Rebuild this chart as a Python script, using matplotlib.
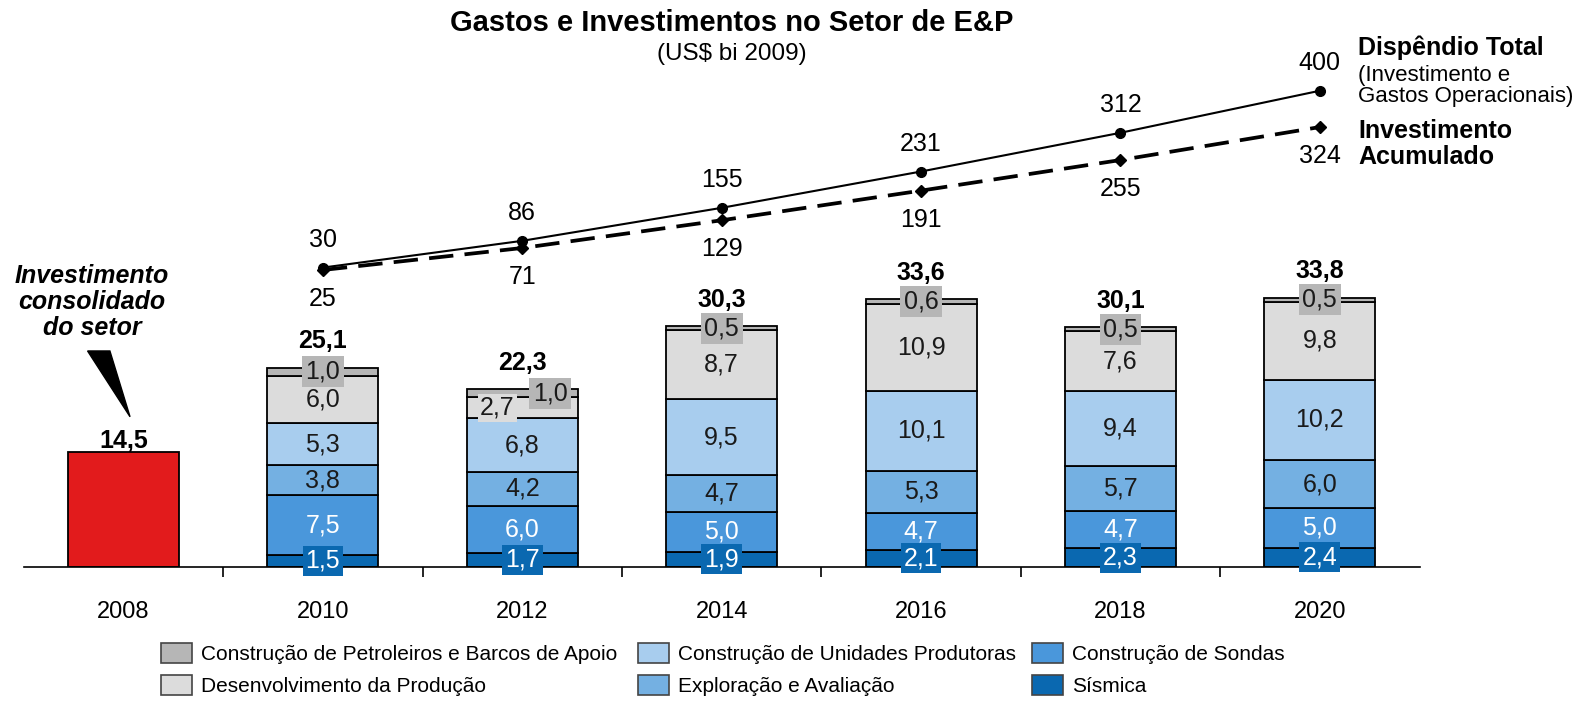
import matplotlib.pyplot as plt
from matplotlib.patches import Patch, Polygon
import numpy as np

plt.rcParams['font.family'] = ['Liberation Sans', 'DejaVu Sans']

# dados (US$ bi 2009)
anos = ['2008', '2010', '2012', '2014', '2016', '2018', '2020']
consolidado_2008 = 14.5
sismica = [1.5, 1.7, 1.9, 2.1, 2.3, 2.4]
sondas = [7.5, 6.0, 5.0, 4.7, 4.7, 5.0]
exploracao = [3.8, 4.2, 4.7, 5.3, 5.7, 6.0]
unidades = [5.3, 6.8, 9.5, 10.1, 9.4, 10.2]
desenvolvimento = [6.0, 2.7, 8.7, 10.9, 7.6, 9.8]
petroleiros = [1.0, 1.0, 0.5, 0.6, 0.5, 0.5]
totais = [25.1, 22.3, 30.3, 33.6, 30.1, 33.8]
dispendio_total = [30, 86, 155, 231, 312, 400]
invest_acumulado = [25, 71, 129, 191, 255, 324]

series = [
    ('Sísmica', sismica, '#0a68b0'),
    ('Construção de Sondas', sondas, '#4a97db'),
    ('Exploração e Avaliação', exploracao, '#74b0e2'),
    ('Construção de Unidades Produtoras', unidades, '#a8cdee'),
    ('Desenvolvimento da Produção', desenvolvimento, '#dcdcdc'),
    ('Construção de Petroleiros e Barcos de Apoio', petroleiros, '#b6b6b6'),
]


def fmt(v):
    return f'{v:.1f}'.replace('.', ',')


fig = plt.figure(figsize=(15.95, 7.02), dpi=100)
ax = fig.add_axes([0.0149, 0.1927, 0.8751, 0.7503])
ax.set_xlim(-0.5, 6.5)
ax.set_ylim(0, 66.4)
for s in ['top', 'left', 'right']:
    ax.spines[s].set_visible(False)
ax.spines['bottom'].set_linewidth(1.2)
ax.set_yticks([])
ax.set_xticks(np.arange(0.5, 6, 1))
ax.set_xticklabels([])
ax.tick_params(axis='x', which='major', length=7, width=1.2, direction='out')
ax.set_xticks(np.arange(len(anos)), minor=True)
ax.set_xticklabels(anos, minor=True, fontsize=17)
ax.tick_params(axis='x', which='minor', length=0, pad=25)

w = 0.557
ax.bar(0, consolidado_2008, width=w, color='#e21b1c', edgecolor='black', linewidth=1.3)
ax.annotate(fmt(consolidado_2008), (0, consolidado_2008), xytext=(0, 8),
            textcoords='offset points', ha='center', va='center',
            fontsize=18, fontweight='bold')

x = np.arange(1, 7)
bottom = np.zeros(6)
# deslocamentos horizontais de rótulos (2012)
desloc = {(1, 4): -0.125, (1, 5): 0.14}
for j, (nome, vals, cor) in enumerate(series):
    vals = np.array(vals)
    ax.bar(x, vals, width=w, bottom=bottom, color=cor, edgecolor='black',
           linewidth=1.3, label=nome)
    for i in range(6):
        xi = x[i] + desloc.get((i, j), 0)
        yi = bottom[i] + vals[i] / 2
        kw = dict(ha='center', va='center', fontsize=18, zorder=5)
        if j == 0:
            kw.update(color='white', bbox=dict(boxstyle='square,pad=0.12', fc=cor, ec='none'))
        elif j == 1:
            kw.update(color='white')
        elif j == 5:
            kw.update(color='#1a1a1a', bbox=dict(boxstyle='square,pad=0.14', fc='#b6b6b6', ec='none'))
        elif (i, j) in desloc:
            kw.update(color='#1a1a1a', bbox=dict(boxstyle='square,pad=0.08', fc=cor, ec='none'))
        else:
            kw.update(color='#1a1a1a')
        ax.text(xi, yi, fmt(vals[i]), **kw)
    bottom += vals

for i in range(6):
    ax.annotate(fmt(totais[i]), (x[i], bottom[i]), xytext=(0, 19),
                textcoords='offset points', ha='center', va='center',
                fontsize=18, fontweight='bold')

# seta do rótulo de 2008
ax.add_patch(Polygon([[-0.18, 27.2], [-0.068, 27.2], [0.033, 18.9]],
                     closed=True, color='black', zorder=6))
fig.text(92 / 1595, 1 - 302 / 702, 'Investimento\nconsolidado\ndo setor',
         ha='center', va='center', fontsize=18, fontweight='bold',
         style='italic', linespacing=1.08)

# linhas (eixo secundário)
ax2 = ax.twinx()
ax2.set_ylim(-595.8, 506.1)
ax2.axis('off')
ax2.plot(x, dispendio_total, color='black', lw=1.5, marker='o', ms=7, zorder=4)
ax2.plot(x, invest_acumulado, color='black', lw=2.7, ls=(0, (6.5, 3)),
         marker='D', ms=6, zorder=3)
for i in range(6):
    ax2.annotate(str(dispendio_total[i]), (x[i], dispendio_total[i]), xytext=(0, 20),
                 textcoords='offset points', ha='center', va='center', fontsize=18)
    ax2.annotate(str(invest_acumulado[i]), (x[i], invest_acumulado[i]), xytext=(0, -21),
                 textcoords='offset points', ha='center', va='center', fontsize=18)

fig.text(1358 / 1595, 1 - 48 / 702, 'Dispêndio Total', ha='left', va='center',
         fontsize=18, fontweight='bold')
fig.text(1358 / 1595, 1 - 86 / 702, '(Investimento e\nGastos Operacionais)',
         ha='left', va='center', fontsize=16, linespacing=0.95)
fig.text(1358 / 1595, 1 - 144 / 702, 'Investimento\nAcumulado', ha='left',
         va='center', fontsize=18, fontweight='bold', linespacing=1.12)

fig.text(732 / 1595, 1 - 23 / 702, 'Gastos e Investimentos no Setor de E&P',
         ha='center', va='center', fontsize=21, fontweight='bold')
fig.text(732 / 1595, 1 - 54 / 702, '(US$ bi 2009)', ha='center', va='center',
         fontsize=17.5)

# legenda em três colunas
h = {nome: Patch(facecolor=cor, edgecolor='#444444', linewidth=1.2)
     for nome, _, cor in series}
colunas = [
    ['Construção de Petroleiros e Barcos de Apoio', 'Desenvolvimento da Produção'],
    ['Construção de Unidades Produtoras', 'Exploração e Avaliação'],
    ['Construção de Sondas', 'Sísmica'],
]
xs = [161, 638, 1032]
for xc, nomes in zip(xs, colunas):
    fig.legend([h[n] for n in nomes], nomes, loc='upper left',
               bbox_to_anchor=(xc / 1595, 1 - 643 / 702), frameon=False,
               prop={'size': 15},
               handlelength=1.5, handleheight=1.1, handletextpad=0.4,
               labelspacing=0.52, borderpad=0, borderaxespad=0)

fig.savefig('out.png', dpi=100)
